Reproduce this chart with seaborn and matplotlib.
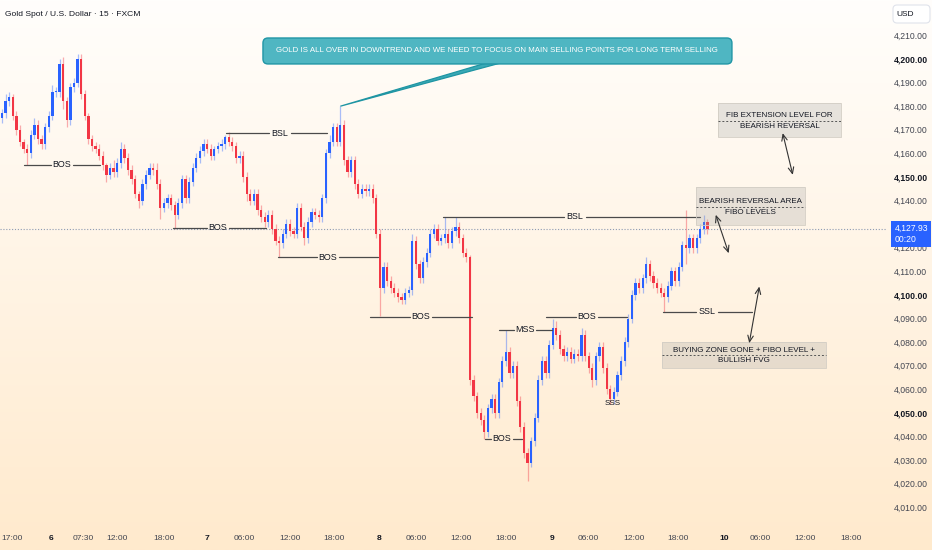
import numpy as np
import pandas as pd
import matplotlib
matplotlib.use("Agg")
import matplotlib.pyplot as plt
import matplotlib.transforms as mtransforms
from matplotlib.patches import FancyBboxPatch, Rectangle, Polygon
import seaborn as sns

# candle data (one candle ~ 30 min), open = previous close
first_open = 4175
closes = [
    # 5th 17:00 -> 7th morning
    4177, 4182, 4184, 4176, 4170, 4165, 4162, 4160, 4168, 4172,
    4166, 4164, 4171, 4176, 4186, 4186, 4198, 4182, 4174, 4188,
    4190, 4200, 4185, 4176, 4166, 4163, 4162, 4159, 4155, 4151,
    4154, 4152, 4156, 4162, 4158, 4153, 4149, 4143, 4140, 4147,
    4151, 4154, 4153, 4147, 4137, 4139, 4141, 4138, 4134, 4139,
    4149, 4141, 4148, 4154, 4158, 4161, 4164, 4162, 4159, 4162,
    4163, 4164, 4167, 4165, 4163, 4158,
    # 7th -> 8th
    4159, 4150, 4143, 4140, 4143, 4136, 4133, 4131, 4134, 4128,
    4123, 4122, 4126, 4130, 4127, 4126, 4137, 4129, 4124, 4131,
    4135, 4134, 4133, 4141, 4160, 4165, 4171, 4165, 4172, 4157,
    4152, 4157, 4147, 4143, 4145, 4144, 4145, 4141, 4126, 4103,
    4112, 4106, 4103, 4101, 4099, 4098, 4101, 4102, 4123, 4113,
    4107, 4114, 4118, 4126, 4128, 4123, 4124, 4126, 4122, 4127,
    4129, 4124, 4118, 4116,
    # 8th afternoon -> 9th
    4064, 4057, 4050, 4047, 4042, 4052, 4056, 4050, 4063, 4072,
    4076, 4067, 4070, 4055, 4044, 4033, 4029, 4038, 4048, 4064,
    4072, 4067, 4079, 4086, 4083, 4077, 4074, 4076, 4073, 4075,
    4074, 4083, 4074, 4069, 4064, 4074, 4078, 4069, 4060, 4056,
    4059, 4066, 4072, 4080, 4090, 4100, 4105,
    # 9th afternoon -> now
    4103, 4107, 4113, 4108, 4105, 4103, 4101, 4099, 4104, 4110,
    4106, 4112, 4121, 4120, 4124, 4120, 4124, 4128, 4131, 4127.93,
]
up_wick = [
    2, 3, 2, 1, 2, 2, 1, 2, 2, 3, 2, 2, 2, 2, 3, 2, 2, 3, 2, 2,
    2, 2, 2, 2, 1, 2, 2, 2, 2, 1, 2, 3, 2, 3, 2, 2, 2, 2, 1, 2,
    2, 2, 2, 3, 2, 2, 2, 2, 2, 2, 2, 2, 2, 2, 2, 2, 2, 2, 2, 1,
    2, 2, 1, 2, 2, 2,
    2, 2, 2, 2, 2, 2, 2, 2, 2, 2, 2, 2, 2, 2, 2, 2, 2, 2, 2, 2,
    2, 2, 2, 2, 2, 3, 2, 2, 8, 2, 2, 2, 2, 2, 2, 2, 2, 2, 2, 2,
    2, 2, 2, 2, 2, 2, 2, 2, 3, 2, 2, 2, 2, 2, 2, 2, 2, 7, 2, 2,
    4, 2, 2, 2,
    1, 2, 2, 2, 2, 2, 2, 2, 2, 2, 9, 2, 2, 2, 2, 2, 2, 2, 2, 2,
    2, 2, 2, 4, 3, 2, 2, 2, 2, 2, 2, 3, 2, 2, 2, 2, 2, 2, 2, 2,
    2, 2, 2, 2, 2, 2, 2,
    2, 2, 3, 2, 2, 2, 2, 2, 2, 2, 2, 2, 2, 15, 2, 2, 2, 2, 3, 1,
]
dn_wick = [
    2, 2, 2, 2, 2, 2, 2, 5, 2, 2, 2, 2, 2, 2, 2, 2, 2, 3, 3, 2,
    2, 2, 2, 2, 2, 2, 2, 2, 2, 3, 2, 2, 2, 2, 2, 2, 2, 2, 3, 2,
    2, 2, 2, 2, 5, 2, 2, 2, 6, 2, 2, 2, 2, 2, 2, 2, 2, 2, 2, 2,
    2, 2, 2, 2, 2, 2,
    2, 2, 3, 2, 2, 2, 2, 2, 2, 2, 2, 6, 2, 2, 2, 2, 2, 2, 3, 2,
    2, 2, 2, 2, 2, 2, 2, 2, 2, 2, 2, 2, 2, 2, 2, 2, 2, 2, 2, 12,
    2, 2, 2, 2, 2, 2, 2, 2, 2, 2, 2, 2, 2, 2, 2, 2, 2, 2, 2, 2,
    2, 2, 2, 2,
    2, 2, 2, 2, 3, 2, 2, 2, 2, 2, 2, 2, 2, 2, 2, 2, 8, 2, 2, 2,
    2, 2, 2, 2, 2, 2, 2, 2, 2, 2, 2, 2, 2, 2, 3, 2, 2, 2, 2, 2,
    2, 2, 2, 2, 2, 2, 2,
    2, 2, 2, 2, 2, 2, 2, 6, 2, 2, 2, 2, 2, 7, 2, 2, 2, 2, 2, 2,
]

time_ticks = [-0.2, 13.5, 22.5, 31.9, 44.9, 57.0, 67.2, 80.0, 92.2, 104.7, 115.0,
              127.5, 140.1, 152.8, 163.0, 175.6, 187.8, 200.6, 210.8, 223.0, 235.8]
time_labels = ["17:00", "6", "07:30", "12:00", "18:00", "7", "06:00", "12:00", "18:00",
               "8", "06:00", "12:00", "18:00", "9", "06:00", "12:00", "18:00",
               "10", "06:00", "12:00", "18:00"]
day_labels = ["6", "7", "8", "9", "10"]
price_ticks = list(range(4010, 4211, 10))

# market structure levels (name, price, start candle, end candle, label candle)
level_names = ["BOS", "BOS", "BSL", "BOS", "BOS", "BSL", "MSS", "BOS", "BOS", "SSL"]
level_prices = [4155.1, 4128.6, 4168.6, 4116.1, 4090.7, 4133.1, 4085.2, 4090.7, 4039.0, 4092.8]
level_start = [6.1, 47.5, 62.2, 76.7, 102.2, 122.5, 138.1, 151.1, 134.2, 183.6]
level_end = [27.2, 73.3, 90.3, 104.4, 130.6, 193.9, 152.8, 173.6, 144.4, 208.3]
level_label = [16.7, 60.0, 77.2, 90.6, 116.4, 159.2, 145.3, 162.5, 138.9, 195.8]

banner_text = "GOLD IS ALL OVER IN DOWNTREND AND WE NEED TO FOCUS ON MAIN SELLING POINTS FOR LONG TERM SELLING"
note_texts = [("FIB EXTENSION LEVEL FOR", "BEARISH REVERSAL"),
              ("BEARISH REVERSAL AREA", "FIBO LEVELS"),
              ("BUYING ZONE GONE + FIBO LEVEL +", "BULLISH FVG")]

sns.set_theme(style="white")
plt.rcParams["font.family"] = ["Liberation Sans", "DejaVu Sans"]

df = pd.DataFrame({"close": closes, "up": up_wick, "dn": dn_wick})
df["open"] = [first_open] + closes[:-1]
df["idx"] = np.arange(len(df))
df["top"] = df[["open", "close"]].max(axis=1)
df["bot"] = df[["open", "close"]].min(axis=1)
df["high"] = df["top"] + df["up"]
df["low"] = df["bot"] - df["dn"]
df["rising"] = df["close"] >= df["open"]

fig = plt.figure(figsize=(9.32, 5.5), dpi=100)

# soft white -> peach background
bg = fig.add_axes([0, 0, 1, 1], zorder=-5)
t = np.linspace(0, 1, 256)[:, None, None]
c_top = np.array([255, 254, 252]) / 255
c_bot = np.array([255, 234, 205]) / 255
bg.imshow(c_top + (c_bot - c_top) * t, aspect="auto", extent=[0, 1, 0, 1])
bg.axis("off")

ax = fig.add_axes([0, 23 / 550, 886 / 932, 527 / 550])
ax.set_facecolor("none")

up_c, dn_c = "#2962FF", "#F23645"
for rising, color in [(True, up_c), (False, dn_c)]:
    d = df[df["rising"] == rising]
    ax.vlines(d["idx"], d["low"], d["high"], color=color, alpha=0.4, lw=0.9, zorder=3)
    ax.bar(d["idx"], (d["top"] - d["bot"]).clip(lower=0.4), bottom=d["bot"],
           width=0.62, color=color, lw=0, zorder=4)

ax.set_xlim(-0.56, 245.6)
ax.set_ylim(4001.7, 4225.0)

# current price dotted line
last = closes[-1]
ax.axhline(last, color="#8e9bb3", lw=0.8, ls=(0, (1, 1.6)), zorder=2)

# structure levels
gap = 3.1
for name, p, x0, x1, xl in zip(level_names, level_prices, level_start, level_end, level_label):
    ax.plot([x0, xl - gap], [p, p], color="#4a4a4a", lw=0.9, zorder=5)
    ax.plot([xl + gap, x1], [p, p], color="#4a4a4a", lw=0.9, zorder=5)
    ax.text(xl, p, name, ha="center", va="center", fontsize=6.4, color="#131722", zorder=6)
ax.text(169.7, 4054.0, "SSS", ha="center", va="center", fontsize=5.8, color="#131722", zorder=6)

# banner + pointer to the high of the spike candle
peak = df.loc[94]
ax.add_patch(Polygon([(peak["idx"], peak["high"]), (134.5, 4198.3), (138.5, 4198.3)],
                     closed=True, fc="#3aa9b6", ec="#1f95a3", lw=0.9, zorder=7))
ax.add_patch(FancyBboxPatch((72.5, 4197.9), 130.3, 11.0,
                            boxstyle="round,pad=0,rounding_size=1.4",
                            mutation_aspect=3.6 / 2.36,
                            fc="#4fb6c2", ec="#2196a6", lw=1.0, zorder=8))
ax.text(137.6, 4203.4, banner_text, ha="center", va="center", fontsize=5.65,
        color="white", zorder=9)

# grey note boxes: (x0, x1, ytop, ybot, ydash)
boxes = [(198.9, 233.1, 4181.4, 4167.0, 4173.8),
         (192.8, 223.1, 4145.8, 4129.7, 4137.3),
         (183.3, 228.9, 4080.1, 4069.1, 4074.4)]
for (x0, x1, yt, yb, yd), (l1, l2) in zip(boxes, note_texts):
    ax.add_patch(Rectangle((x0, yb), x1 - x0, yt - yb, fc="#9e9e9e", alpha=0.25,
                           ec="none", zorder=5))
    ax.add_patch(Rectangle((x0, yb), x1 - x0, yt - yb, fc="none", ec="#d2cdc4",
                           lw=0.6, zorder=5))
    ax.plot([x0, x1], [yd, yd], color="#555555", lw=0.7, ls=(0, (2, 2)), zorder=6)
    xc = (x0 + x1) / 2
    ax.text(xc, yd + 2.2, l1, ha="center", va="center", fontsize=5.8, color="#131722", zorder=7)
    ax.text(xc, yd - 2.2, l2, ha="center", va="center", fontsize=5.8, color="#131722", zorder=7)

arrows = [((216.9, 4168.6), (219.7, 4150.9)),
          ((198.3, 4134.0), (201.9, 4117.7)),
          ((207.6, 4079.6), (210.4, 4103.6))]
for a, b in arrows:
    ax.annotate("", xy=b, xytext=a,
                arrowprops=dict(arrowstyle="<->,head_length=0.5,head_width=0.22",
                                color="#333333", lw=0.8, shrinkA=0, shrinkB=0,
                                mutation_scale=9), zorder=7)

# right price scale
ax.yaxis.tick_right()
ax.set_yticks(price_ticks)
ax.set_yticklabels([f"{p:,.2f}" for p in price_ticks])
ax.tick_params(axis="y", length=0, pad=5.5, labelsize=6.2, labelcolor="#434651")
for lab, p in zip(ax.get_yticklabels(), price_ticks):
    if p % 50 == 0:
        lab.set_fontweight("bold")
        lab.set_color("#131722")

# time axis
ax.set_xticks(time_ticks)
ax.set_xticklabels(time_labels)
ax.tick_params(axis="x", length=0, pad=6.0, labelsize=6.1, labelcolor="#434651")
for lab in ax.get_xticklabels():
    if lab.get_text() in day_labels:
        lab.set_fontweight("bold")
        lab.set_color("#131722")
ax.get_xticklabels()[0].set_horizontalalignment("left")
ax.grid(False)
sns.despine(ax=ax, left=True, bottom=True)

# last price tag
trans = mtransforms.blended_transform_factory(ax.transAxes, ax.transData)
ax.annotate(f"{last:,.2f}\n00:20", xy=(1.0, last), xycoords=trans,
            xytext=(6.0, -3.5), textcoords="offset points", ha="left", va="center",
            fontsize=6.2, color="white", linespacing=1.2, annotation_clip=False,
            bbox=dict(boxstyle="square,pad=0.35", fc="#2962FF", ec="none"), zorder=20)

# header texts
fig.text(5 / 932, 1 - 14 / 550, "Gold Spot / U.S. Dollar · 15 · FXCM", ha="left",
         va="center", fontsize=6.1, color="#131722")
fig.add_artist(FancyBboxPatch((8.93, (550 - 23) / 100), 0.37, 0.18,
                              boxstyle="round,pad=0,rounding_size=0.04",
                              transform=fig.dpi_scale_trans, fc="white", ec="#e0e3eb", lw=0.8))
fig.text(896 / 932, 1 - 14 / 550, "USD", ha="left", va="center", fontsize=6.0, color="#131722")

fig.savefig("out.png", dpi=100)
